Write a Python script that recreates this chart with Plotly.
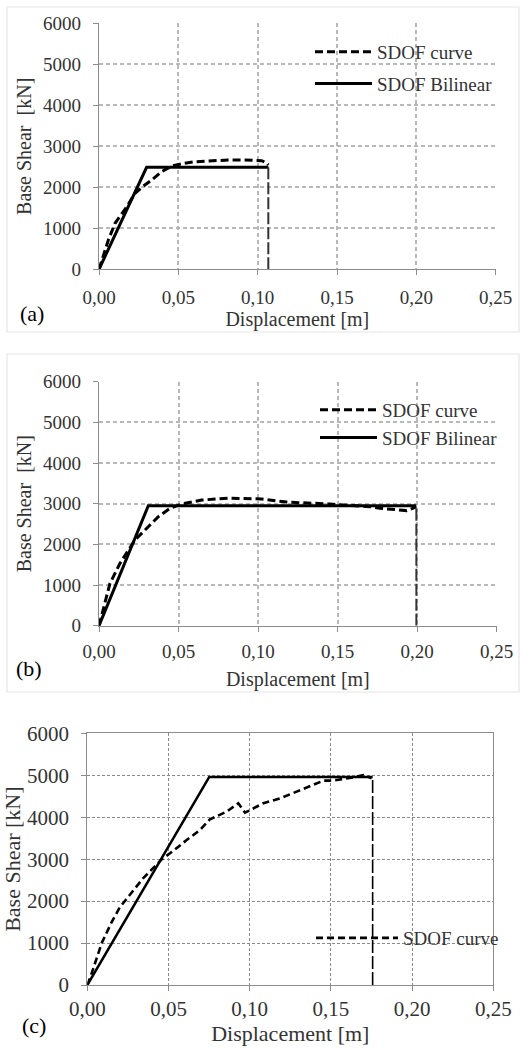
import plotly.graph_objects as go

# ---------------- data ----------------
x_ticks = [0, 0.05, 0.10, 0.15, 0.20, 0.25]
x_tick_text = ["0,00", "0,05", "0,10", "0,15", "0,20", "0,25"]
y_ticks = [0, 1000, 2000, 3000, 4000, 5000, 6000]
y_tick_text = ["0", "1000", "2000", "3000", "4000", "5000", "6000"]

# (a)
curve_a_x = [0, 0.0059, 0.0101, 0.0175, 0.0227, 0.028, 0.0332, 0.0395, 0.0458, 0.053, 0.0605,
             0.070, 0.0815, 0.092, 0.1025, 0.1055, 0.1067]
curve_a_y = [0, 714, 1122, 1527, 1854, 2030, 2178, 2380, 2519, 2580, 2624,
             2650, 2666, 2665, 2650, 2600, 2544]
bil_a_x = [0, 0.0300, 0.1067]
bil_a_y = [0, 2487, 2487]
ult_a_x = [0.1067, 0.1067]
ult_a_y = [0, 2520]

# (b)
curve_b_x = [0, 0.0038, 0.0069, 0.0132, 0.0184, 0.0226, 0.031, 0.0373, 0.0446, 0.052, 0.0646,
             0.0813, 0.1023, 0.118, 0.1452, 0.1704, 0.1766, 0.1871, 0.1934, 0.1995]
curve_b_y = [0, 551, 1042, 1534, 1861, 2107, 2434, 2680, 2887, 2993, 3091,
             3133, 3116, 3040, 2992, 2926, 2887, 2862, 2830, 2920]
bil_b_x = [0, 0.0310, 0.1995]
bil_b_y = [0, 2950, 2950]
ult_b_x = [0.1995, 0.1995]
ult_b_y = [0, 2920]

# (c)
curve_c_x = [0, 0.002, 0.0089, 0.015, 0.020, 0.026, 0.0345, 0.046, 0.053, 0.0612, 0.0694,
             0.0755, 0.0858, 0.093, 0.0971, 0.1084, 0.1187, 0.1289, 0.1392, 0.1453, 0.149,
             0.1536, 0.1638, 0.170, 0.1751]
curve_c_y = [0, 200, 1000, 1500, 1850, 2150, 2550, 3000, 3200, 3457, 3695,
             3950, 4132, 4332, 4108, 4332, 4451, 4609, 4768, 4871, 4871,
             4887, 4951, 5006, 4927]
bil_c_x = [0, 0.0751, 0.1757]
bil_c_y = [0, 4960, 4960]
ult_c_x = [0.1757, 0.1757]
ult_c_y = [0, 4930]

labels = ["(a)", "(b)", "(c)"]
curve_name = "SDOF curve"
bil_name = "SDOF Bilinear"
x_title = "Displacement [m]"
y_title_ab = "Base Shear  [kN]"
y_title_c = "Base Shear [kN]"

# ---------------- figure ----------------
W, H = 523, 1048
FONT = "Liberation Serif, Times New Roman, DejaVu Serif, serif"
TXT = "#333333"

fig = go.Figure()

def add_panel(idx, cx, cy, bx, by, ux, uy, legend, show_bil_legend, curve_dash, lw, ult_style):
    xa = "x" if idx == 1 else f"x{idx}"
    ya = "y" if idx == 1 else f"y{idx}"
    fig.add_trace(go.Scatter(x=cx, y=cy, mode="lines", name=curve_name, xaxis=xa, yaxis=ya,
                             line=dict(color="black", width=lw, dash=curve_dash),
                             legend=legend, legendgroup=f"c{idx}", showlegend=True))
    fig.add_trace(go.Scatter(x=bx, y=by, mode="lines", name=bil_name, xaxis=xa, yaxis=ya,
                             line=dict(color="black", width=lw),
                             legend=legend, legendgroup=f"b{idx}", showlegend=show_bil_legend))
    fig.add_trace(go.Scatter(x=ux, y=uy, mode="lines", xaxis=xa, yaxis=ya, showlegend=False,
                             line=ult_style))

add_panel(1, curve_a_x, curve_a_y, bil_a_x, bil_a_y, ult_a_x, ult_a_y, "legend", True,
          "8px,4px", 3, dict(color="#333333", width=2, dash="12px,3px"))
add_panel(2, curve_b_x, curve_b_y, bil_b_x, bil_b_y, ult_b_x, ult_b_y, "legend2", True,
          "8px,4px", 3, dict(color="#333333", width=2, dash="12px,3px"))
add_panel(3, curve_c_x, curve_c_y, bil_c_x, bil_c_y, ult_c_x, ult_c_y, "legend3", False,
          "7px,4px", 2.6, dict(color="black", width=1.6, dash="13px,3px"))

def px_x(p):
    return p / W

def px_y(p):
    return 1 - p / H

def xaxis(dom, anchor, grid, title_standoff, fs, lab_off, mirror=False):
    return dict(domain=dom, anchor=anchor, range=[0, 0.25], tickvals=x_ticks, ticktext=x_tick_text,
                showgrid=True, gridcolor=grid["color"], griddash=grid["dash"], gridwidth=grid["width"],
                showline=True, linecolor="#8c8c8c", linewidth=1.3, mirror=mirror,
                ticks="outside", ticklen=5, tickcolor="#8c8c8c", automargin=False,
                ticklabelstandoff=lab_off,
                tickfont=dict(family=FONT, size=fs, color=TXT), zeroline=False,
                title=dict(text=x_title, font=dict(family=FONT, size=fs + 1, color=TXT),
                           standoff=title_standoff))

def yaxis(dom, anchor, grid, title, title_standoff, fs, lab_off, mirror=False):
    return dict(domain=dom, anchor=anchor, range=[0, 6000], tickvals=y_ticks, ticktext=y_tick_text,
                showgrid=True, gridcolor=grid["color"], griddash=grid["dash"], gridwidth=grid["width"],
                showline=True, linecolor="#8c8c8c", linewidth=1.3, mirror=mirror,
                ticks="outside", ticklen=5, tickcolor="#8c8c8c", automargin=False,
                ticklabelstandoff=lab_off,
                tickfont=dict(family=FONT, size=fs, color=TXT), zeroline=False,
                title=dict(text=title, font=dict(family=FONT, size=fs + 1, color=TXT),
                           standoff=title_standoff))

grid_ab = dict(color="#b8b8b8", dash="4px,3px", width=1.5)
grid_c = dict(color="#8a8a8a", dash="3px,2px", width=1)

leg_common = dict(bgcolor="rgba(0,0,0,0)", font=dict(family=FONT, size=19, color=TXT),
                  xanchor="left", yanchor="top", tracegroupgap=4, itemwidth=57)

fig.update_layout(
    width=W, height=H, margin=dict(l=0, r=0, t=0, b=0, autoexpand=False),
    font=dict(family=FONT, color=TXT),
    paper_bgcolor="white", plot_bgcolor="white",
    xaxis=xaxis([px_x(99), px_x(495.7)], "y", grid_ab, 2, 19, 6),
    yaxis=yaxis([px_y(269.3), px_y(23.3)], "x", grid_ab, y_title_ab, 6, 19, 8),
    xaxis2=xaxis([px_x(99), px_x(496.7)], "y2", grid_ab, 11, 19, 3),
    yaxis2=yaxis([px_y(625.7), px_y(381.7)], "x2", grid_ab, y_title_ab, 6, 19, 8),
    xaxis3=xaxis([px_x(87.3), px_x(493.3)], "y3", grid_c, 2, 21, 0, mirror=True),
    yaxis3=yaxis([px_y(985), px_y(733.3)], "x3", grid_c, y_title_c, 3, 21, 8, mirror=True),
    legend=dict(x=px_x(310), y=px_y(33), **leg_common),
    legend2=dict(x=px_x(315), y=px_y(391), **{**leg_common, "tracegroupgap": 0}),
    legend3=dict(x=px_x(311), y=px_y(919), **{**leg_common, "itemwidth": 82}),
    annotations=[
        dict(text=labels[0], x=px_x(32), y=px_y(313), xref="paper", yref="paper", showarrow=False,
             xanchor="center", yanchor="middle", font=dict(family=FONT, size=22, color="black")),
        dict(text=labels[1], x=px_x(29), y=px_y(668), xref="paper", yref="paper", showarrow=False,
             xanchor="center", yanchor="middle", font=dict(family=FONT, size=22, color="black")),
        dict(text=labels[2], x=px_x(34), y=px_y(1025), xref="paper", yref="paper", showarrow=False,
             xanchor="center", yanchor="middle", font=dict(family=FONT, size=22, color="black")),
    ],
    shapes=[
        dict(type="rect", xref="paper", yref="paper", x0=px_x(7), x1=px_x(519), y0=px_y(332), y1=px_y(7),
             line=dict(color="#e6e6e6", width=1.2)),
        dict(type="rect", xref="paper", yref="paper", x0=px_x(7), x1=px_x(519), y0=px_y(692), y1=px_y(354),
             line=dict(color="#e6e6e6", width=1.2)),
    ],
)

fig.write_html("out.html", config={"displayModeBar": False},
               post_script="document.body.style.margin='0';document.body.style.padding='0';")
